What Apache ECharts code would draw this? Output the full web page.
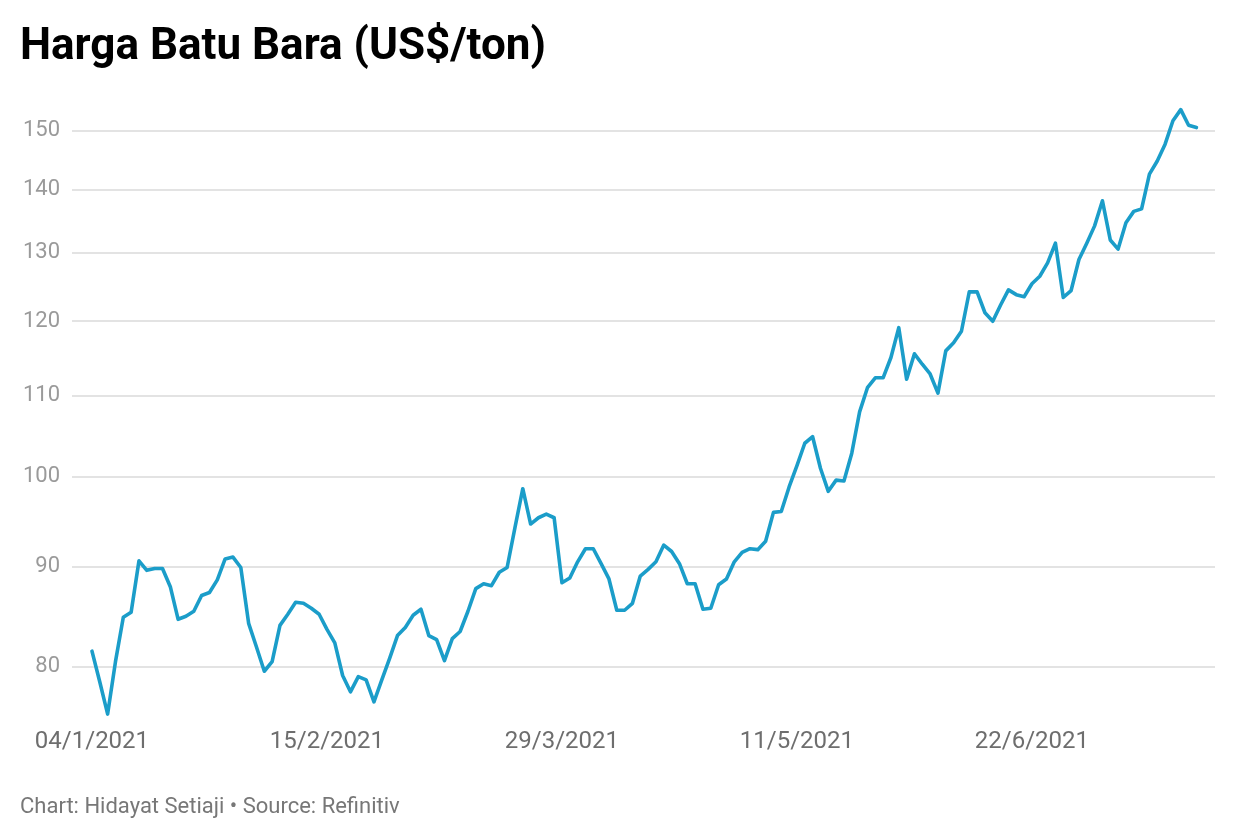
<!DOCTYPE html>
<html>
<head>
<meta charset="utf-8">
<script src="https://cdn.jsdelivr.net/npm/echarts@6/dist/echarts.min.js"></script>
<style>
html,body{margin:0;padding:0;background:#fff;}
#chart{width:1240px;height:840px;}
</style>
</head>
<body>
<div id="chart"></div>
<script>
// Trading-day index of each observation (0 = 04/1/2021)
const prices = [
  81.5, 78.6, 75.7, 80.5, 84.8, 85.3, 90.6, 89.6, 89.8, 89.8,
  87.9, 84.6, 84.9, 85.4, 87.0, 87.3, 88.6, 90.8, 91.0, 89.9,
  84.2, 81.9, 79.6, 80.5, 84.0, 85.1, 86.3, 86.2, 85.7, 85.1,
  83.6, 82.3, 79.2, 77.7, 79.1, 78.8, 76.8, 78.8, 80.8, 83.0,
  83.8, 85.0, 85.6, 83.0, 82.6, 80.6, 82.7, 83.4, 85.4, 87.7,
  88.2, 88.0, 89.4, 89.9, 94.2, 98.6, 94.6, 95.3, 95.7, 95.3,
  88.3, 88.8, 90.5, 91.9, 91.9, 90.3, 88.7, 85.5, 85.5, 86.2,
  89.0, 89.7, 90.5, 92.3, 91.6, 90.3, 88.2, 88.2, 85.6, 85.7,
  88.1, 88.7, 90.5, 91.5, 91.9, 91.8, 92.7, 95.9, 96.0, 98.8,
  101.3, 104.0, 104.8, 101.0, 98.3, 99.6, 99.5, 102.8, 107.9, 111.0,
  112.3, 112.3, 115.0, 119.1, 112.1, 115.5, 114.1, 112.8, 110.3, 115.9,
  117.0, 118.6, 124.2, 124.2, 121.2, 120.0, 122.3, 124.5, 123.8, 123.5,
  125.4, 126.5, 128.5, 131.5, 123.4, 124.4, 129.0, 131.5, 134.2, 138.2,
  132.0, 130.6, 134.7, 136.5, 136.9, 142.6, 144.8, 147.7, 151.8, 153.8,
  151.0, 150.6
];
const xTickIndex = [0, 30, 60, 90, 120];
const xTickLabels = ['04/1/2021', '15/2/2021', '29/3/2021', '11/5/2021', '22/6/2021'];
const yTicks = [80, 90, 100, 110, 120, 130, 140, 150];

const seriesData = prices.map((v, i) => [i, v]);

const chart = echarts.init(document.getElementById('chart'), null, {renderer: 'canvas'});
chart.setOption({
  animation: false,
  backgroundColor: '#ffffff',
  textStyle: {fontFamily: 'Roboto'},
  graphic: [
    {
      type: 'text', left: 20, top: 26,
      style: {text: 'Harga Batu Bara (US$/ton)', font: 'bold 44px Roboto', fill: '#000000'}
    },
    {
      type: 'text', left: 20, top: 796,
      style: {text: 'Chart: Hidayat Setiaji \u2022 Source: Refinitiv', font: '22px Roboto', fill: '#777777'}
    }
  ],
  grid: {left: 72, right: 25, top: 103, bottom: 118, containLabel: false, outerBoundsMode: 'none'},
  xAxis: {
    type: 'value',
    min: -2.55,
    max: 143.37,
    axisLine: {show: false},
    axisTick: {show: false},
    splitLine: {show: false},
    axisLabel: {
      customValues: xTickIndex,
      margin: 8,
      fontSize: 24,
      color: '#6e6e6e',
      fontFamily: 'Roboto',
      formatter: function (v) {
        const k = xTickIndex.indexOf(Math.round(v));
        return k >= 0 ? xTickLabels[k] : '';
      }
    }
  },
  yAxis: {
    type: 'log',
    logBase: 10,
    min: 75,
    max: 155,
    axisLine: {show: false},
    axisTick: {show: false, customValues: yTicks},
    splitLine: {show: true, lineStyle: {color: '#e3e3e3', width: 2}},
    axisLabel: {
      customValues: yTicks,
      margin: 12,
      fontSize: 22,
      color: '#9a9a9a',
      fontFamily: 'Roboto',
      formatter: function (v) { return String(Math.round(v)); }
    }
  },
  series: [{
    type: 'line',
    data: seriesData,
    showSymbol: false,
    symbol: 'none',
    smooth: false,
    lineStyle: {color: '#1b9dc9', width: 3.6, join: 'round', cap: 'round'}
  }]
});
</script>
</body>
</html>
